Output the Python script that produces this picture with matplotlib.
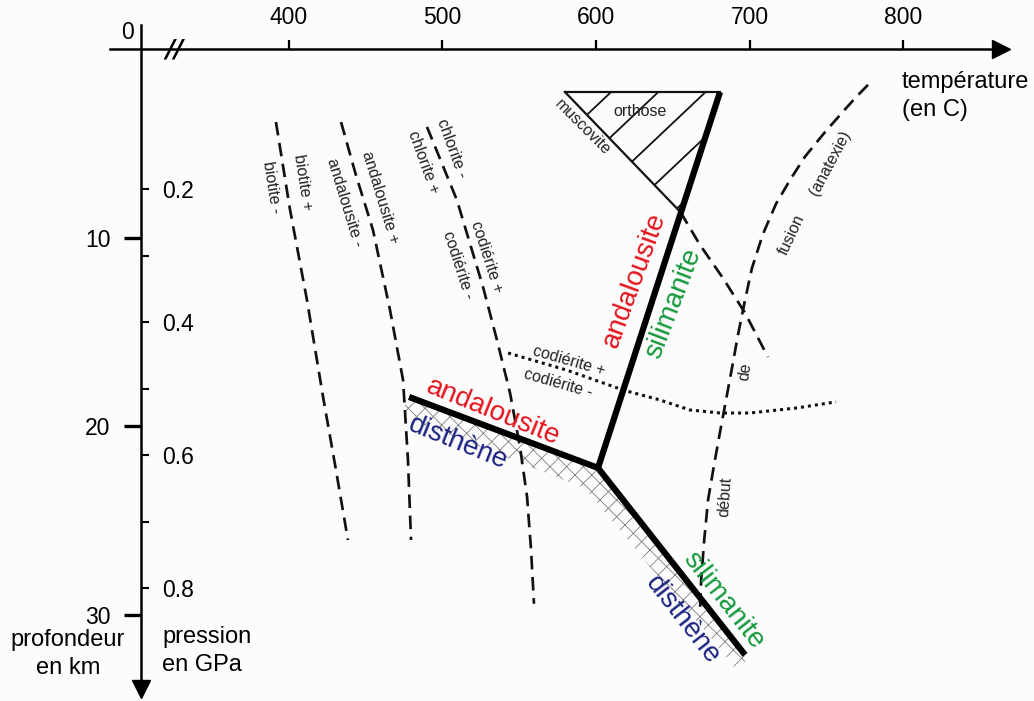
import numpy as np
import matplotlib
matplotlib.use('Agg')
import matplotlib.pyplot as plt
from matplotlib.patches import Polygon

plt.rcParams['font.family'] = ['Liberation Sans', 'DejaVu Sans']
plt.rcParams['hatch.linewidth'] = 0.6

# ---- axes ----
temp_ticks = [400, 500, 600, 700, 800]
depth_ticks = [10, 20, 30]
press_ticks = [0.2, 0.3, 0.4, 0.5, 0.6, 0.7, 0.8]
press_labels = ['0.2', '', '0.4', '', '0.6', '', '0.8']

# ---- isograds : temperature (C) / depth (km) ----
biotite_T = [391.5, 400.7, 411.7, 422.2, 430.6, 438.4]
biotite_z = [3.87, 8.53, 13.30, 18.44, 22.31, 26.02]

andal_T = [433.9, 443.6, 454.7, 465.8, 474.3, 477.5, 479.5]
andal_z = [3.87, 6.68, 9.59, 13.83, 17.54, 21.78, 26.02]

chlor_T = [489.9, 509.4, 526.4, 535.5, 544.0, 550.5, 555.1, 557.7, 559.6]
chlor_z = [4.13, 8.01, 12.61, 15.43, 18.23, 21.09, 23.74, 26.55, 29.4]

# codierite (dotted)
cord_T = [542.7, 581.1, 617.6, 641.7, 661.2, 680.8, 700.3, 731.0, 756.4]
cord_z = [16.11, 17.02, 18.07, 18.60, 19.13, 19.29, 19.29, 19.02, 18.70]

# debut de fusion (anatexie)
fusion_T = [777.2, 770.0, 762.2, 749.2, 736.2, 726.7, 717.3, 708.8, 701.6,
            697.1, 692.5, 688.6, 684.7, 680.8, 676.9, 673.0, 670.5, 668.5,
            667.8]
fusion_z = [1.90, 2.50, 3.20, 4.40, 5.70, 6.90, 8.20, 9.80, 11.61,
            13.30, 15.15, 16.90, 18.60, 20.30, 22.05, 23.90, 26.02, 28.14,
            29.73]

# muscovite + quartz -> orthose
musc_solid_T = [579.8, 655.0]
musc_solid_z = [2.28, 8.64]
musc_dash_T = [655.0, 667.8, 682.7, 697.1, 712.0]
musc_dash_z = [8.64, 10.39, 12.14, 13.99, 16.32]
orthose_T = [579.8, 680.8, 655.0]
orthose_z = [2.28, 2.28, 8.64]

# Al2SiO5 triple point diagram
and_ky_T = [478.2, 601.3]
and_ky_z = [18.44, 22.20]
and_sil_T = [601.3, 680.8]
and_sil_z = [22.20, 2.28]
ky_sil_T = [601.3, 697.1]
ky_sil_z = [22.20, 32.11]

band_T = [475.6, 601.3, 699.0, 690.6, 676.2, 635.2, 592.8, 545.9, 475.6]
band_z = [18.44, 22.20, 32.38, 32.80, 31.32, 27.45, 23.27, 21.78, 19.50]


def depth_to_p(z):
    return (18.87 * np.asarray(z) - 7.0) / 665.5


def p_to_depth(p):
    return (665.5 * np.asarray(p) + 7.0) / 18.87


fig = plt.figure(figsize=(10.34, 7.01), dpi=100, facecolor='#fcfcfc')
ax = fig.add_axes([0, 0, 1, 1])
ax.set_facecolor('#fcfcfc')
ax.set_xlim(211.73, 885.34)
ax.set_ylim(34.552, -2.597)

axis_T = 303.6
# axis lines
ax.spines['right'].set_visible(False)
ax.spines['bottom'].set_visible(False)
ax.spines['left'].set_position(('data', axis_T))
ax.spines['top'].set_position(('data', 0))
ax.spines['left'].set_bounds(-1.27, 33.7)
ax.spines['top'].set_bounds(283.4, 864)
for s in ['left', 'top']:
    ax.spines[s].set_linewidth(1.8)
ax.plot([axis_T], [33.94], marker='v', ms=13, color='k', clip_on=False)
ax.plot([863.9], [0], marker='>', ms=13, color='k', clip_on=False)

ax.xaxis.set_ticks_position('top')
ax.set_xticks(temp_ticks)
ax.tick_params(axis='x', direction='out', length=6.5, width=1.6,
               labelsize=16.5, pad=8)
ax.yaxis.set_ticks_position('left')
ax.set_yticks(depth_ticks)
ax.tick_params(axis='y', direction='out', length=12, width=2.4,
               labelsize=16.5, pad=10)

sec = ax.secondary_yaxis(141 / 1034, functions=(depth_to_p, p_to_depth))
sec.set_alignment('right')
sec.spines['right'].set_visible(False)
sec.spines['left'].set_visible(False)
sec.set_yticks(press_ticks, labels=press_labels)
sec.tick_params(axis='y', direction='out', length=6, width=1.5,
                labelsize=16.5, pad=9)

ax.text(294.5, -0.85, '0', ha='center', va='center', fontsize=16.5)
ax.text(325.7, 0.05, '//', ha='center', va='center', fontsize=18,
        fontweight='bold', family='DejaVu Sans', style='italic')
ax.text(799.4, 1.75, 'température', ha='left', va='center', fontsize=17)
ax.text(799.4, 3.23, '(en C)', ha='left', va='center', fontsize=17)
ax.text(256.0, 31.32, 'profondeur', ha='center', va='center', fontsize=17)
ax.text(256.0, 32.80, 'en km', ha='center', va='center', fontsize=17)
ax.text(317.3, 31.16, 'pression', ha='left', va='center', fontsize=17)
ax.text(317.3, 32.64, 'en GPa', ha='left', va='center', fontsize=17)

# ---- curves ----
dash = (0, (5, 2.8))
for T, z in [(biotite_T, biotite_z), (andal_T, andal_z), (chlor_T, chlor_z),
             (fusion_T, fusion_z), (musc_dash_T, musc_dash_z)]:
    ax.plot(T, z, color='#111111', lw=1.95, ls=dash, zorder=2)
ax.plot(cord_T, cord_z, color='#111111', lw=2.2, ls=(0, (1, 1.3)), zorder=2)
ax.plot(musc_solid_T, musc_solid_z, color='#111111', lw=1.6, zorder=2)
ax.plot(orthose_T[:2], orthose_z[:2], color='#111111', lw=1.6, zorder=2)

# hatched orthose triangle
tri = Polygon(np.column_stack([orthose_T, orthose_z]), closed=True,
              fill=False, lw=0)
ax.add_patch(tri)
for f in np.linspace(0.19, 0.97, 5):
    t0 = musc_solid_T[0] + f * (musc_solid_T[1] - musc_solid_T[0])
    z0 = musc_solid_z[0] + f * (musc_solid_z[1] - musc_solid_z[0])
    ln, = ax.plot([t0 - 10, t0 + 130], [z0 + 0.77, z0 - 10.0],
                  color='#111111', lw=1.3, zorder=2)
    ln.set_clip_path(tri)

# cross-hatched disthene band
band = Polygon(np.column_stack([band_T, band_z]), closed=True,
               facecolor='none', edgecolor='#808080', lw=0, hatch='xx',
               zorder=1)
ax.add_patch(band)

for T, z in [(and_ky_T, and_ky_z), (and_sil_T, and_sil_z),
             (ky_sil_T, ky_sil_z)]:
    ax.plot(T, z, color='black', lw=4.5, solid_capstyle='butt',
            solid_joinstyle='miter', zorder=3)

# ---- labels ----
small = dict(fontsize=11.5, color='#222222', ha='center', va='center',
             rotation_mode='anchor', zorder=4)
ax.text(409.1, 7.05, 'biotite +', rotation=-81, **small)
ax.text(388.9, 7.31, 'biotite -', rotation=-81, **small)
ax.text(459.3, 7.84, 'andalousite +', rotation=-73, **small)
ax.text(436.5, 8.16, 'andalousite -', rotation=-73, **small)
ax.text(506.2, 5.25, 'chlorite -', rotation=-70, **small)
ax.text(487.3, 5.99, 'chlorite +', rotation=-70, **small)
ax.text(529.0, 11.02, 'codiérite +', rotation=-72, **small)
ax.text(510.1, 11.45, 'codiérite -', rotation=-72, **small)
ax.text(582.5, 16.53, 'codiérite +', rotation=-16, **small)
ax.text(575.2, 17.70, 'codiérite -', rotation=-16, **small)
ax.text(628.7, 3.33, 'orthose', rotation=0, **small)
ax.text(591.5, 4.13, 'muscovite', rotation=-45, **small)
ax.text(727.7, 9.86, 'fusion', rotation=65, **small)
ax.text(752.5, 6.05, '(anatexie)', rotation=62, **small)
ax.text(697.1, 17.11, 'de', rotation=82, **small)
ax.text(684.0, 23.74, 'début', rotation=86, **small)

big = dict(fontsize=20, ha='center', va='center', rotation_mode='anchor',
           zorder=4)
red, green, navy = '#e5141d', '#159a3c', '#1c2383'
ax.text(625.4, 12.24, 'andalousite', rotation=70, color=red, **big)
ax.text(650.2, 13.46, 'silimanite', rotation=69, color=green, **big)
ax.text(532.9, 19.24, 'andalousite', rotation=-22, color=red, **big)
ax.text(510.1, 20.88, 'disthène', rotation=-22, color=navy, **big)
ax.text(682.7, 29.20, 'silimanite', rotation=-52, color=green, **big)
ax.text(656.7, 30.26, 'disthène', rotation=-52, color=navy, **big)

fig.savefig('out.png', dpi=100, facecolor=fig.get_facecolor())
